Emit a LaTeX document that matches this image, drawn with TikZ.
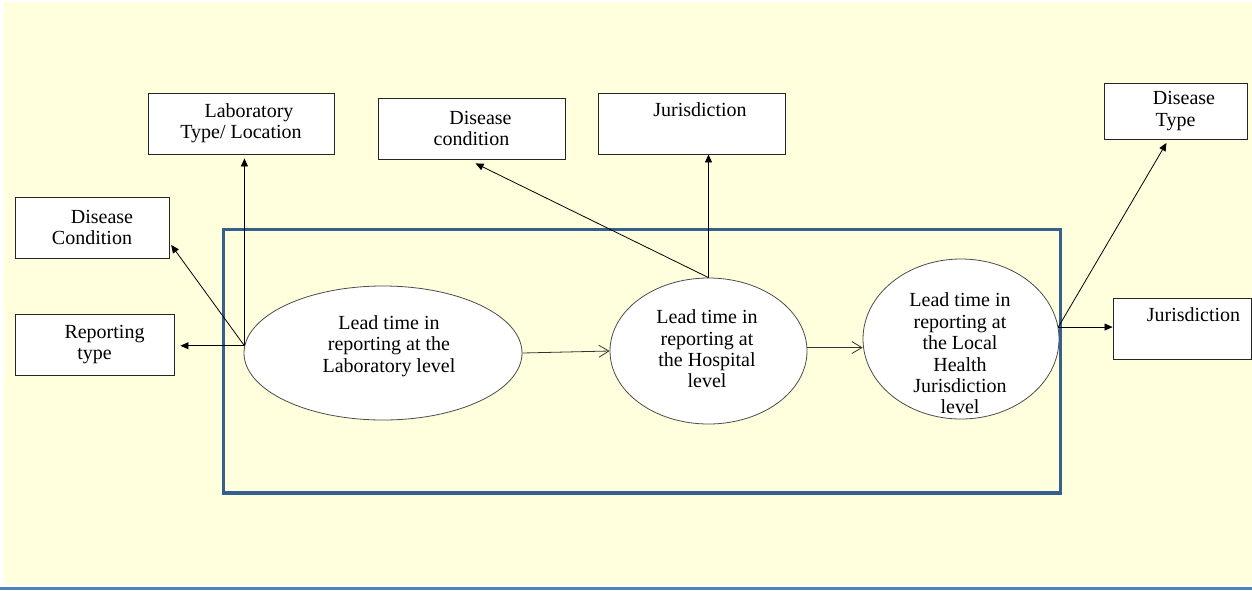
\documentclass[tikz,border=0pt]{standalone}
\usepackage{fontspec}
\setmainfont{Liberation Serif}
\newfontfamily\diagfont{Liberation Serif}
\usetikzlibrary{arrows.meta,calc,shapes.geometric}
\definecolor{paper}{RGB}{255,255,221}
\definecolor{frameblue}{RGB}{54,95,145}
\definecolor{ruleblue}{RGB}{79,129,189}
\begin{document}
\begin{tikzpicture}[x=1pt,y=-1pt,
  txt/.style={font=\diagfont\fontsize{20pt}{21.4pt}\selectfont, align=center},
  factor/.style={txt, rectangle, draw=black!85, line width=0.9pt, fill=white,
    minimum height=61pt, inner sep=0pt},
  stage/.style={ellipse, draw=black!70, line width=0.8pt, fill=white, inner sep=0pt},
  stagetext/.style={txt, inner sep=0pt},
  link/.style={draw=black, line width=0.8pt, -{Triangle[length=8pt,width=7pt]}},
  flow/.style={draw=black!80, line width=0.8pt, -{Straight Barb[length=10pt,width=12pt]}},
]
\useasboundingbox (0,0) rectangle (1252,590);
% page background and rule
\fill[white] (0,0) rectangle (1252,590);
\fill[paper] (4,2) rectangle (1252,585);
\fill[ruleblue] (0,587) rectangle (1252,590);

% influencing factors
\node[factor, minimum width=186pt] (labtype) at (241,123.5) {\hspace*{16pt}Laboratory\\Type/ Location};
\node[factor, minimum width=154pt] (dcleft) at (92,227.5) {\hspace*{20pt}Disease\\Condition};
\node[factor, minimum width=159pt] (rtype) at (94.5,344.5) {\hspace*{20pt}Reporting\\type};
\node[factor, minimum width=187pt] (dcmid) at (471.5,128.5) {\hspace*{18pt}Disease\\condition};
\node[factor, minimum width=187pt] (jmid) at (691.5,123.5) {\hspace*{17pt}Jurisdiction\\\strut};
\node[factor, minimum width=143pt, minimum height=56pt] (dtype) at (1175.5,111) {\hspace*{17pt}Disease\\Type};
\node[factor, minimum width=138pt] (jright) at (1182,328.5) {\hspace*{23pt}Jurisdiction\\\strut};

% reporting stages
\node[stage, minimum width=278pt, minimum height=134pt] (lab) at (383,353) {};
\node[stage, minimum width=197pt, minimum height=146pt] (hosp) at (708.5,351) {};
\node[stage, minimum width=196pt, minimum height=160pt] (local) at (961,339) {};
\node[stagetext] (labtext) at (389,346) {Lead time in\\reporting at the\\Laboratory level};
\node[stagetext] (hosptext) at (707,349) {Lead time in\\reporting at\\the Hospital\\level};
\node[stagetext] (localtext) at (960,353.5) {Lead time in\\reporting at\\the Local\\Health\\Jurisdiction\\level};

% surrounding frame
\draw[frameblue, line width=3pt] (223,229) rectangle (1060,492);
\draw[frameblue, line width=2pt] (221.5,493.5) -- (1061.5,493.5);

% connectors
\path[link, shorten >=4pt] (lab.177) -- (lab.177 |- labtype.south);
\path[link, shorten >=3pt] (lab.177) -- (dcleft.-11);
\path[link, shorten >=6pt] (lab.177) -- (lab.177 -| rtype.east);
\path[flow] (lab.east) -- (hosp.west);
\path[flow] (hosp.2) -- (hosp.2 -| local.west);
\path[link] (hosp.north) -- (hosp.north |- jmid.south);
\path[link, shorten >=9pt] (hosp.north) -- ($(dcmid.south)+(-4,0)$);
\path[link, shorten >=4pt] (local.7) -- ($(dtype.south)+(-7,0)$);
\path[link] (local.7) -- (local.7 -| jright.west);
\end{tikzpicture}
\end{document}
